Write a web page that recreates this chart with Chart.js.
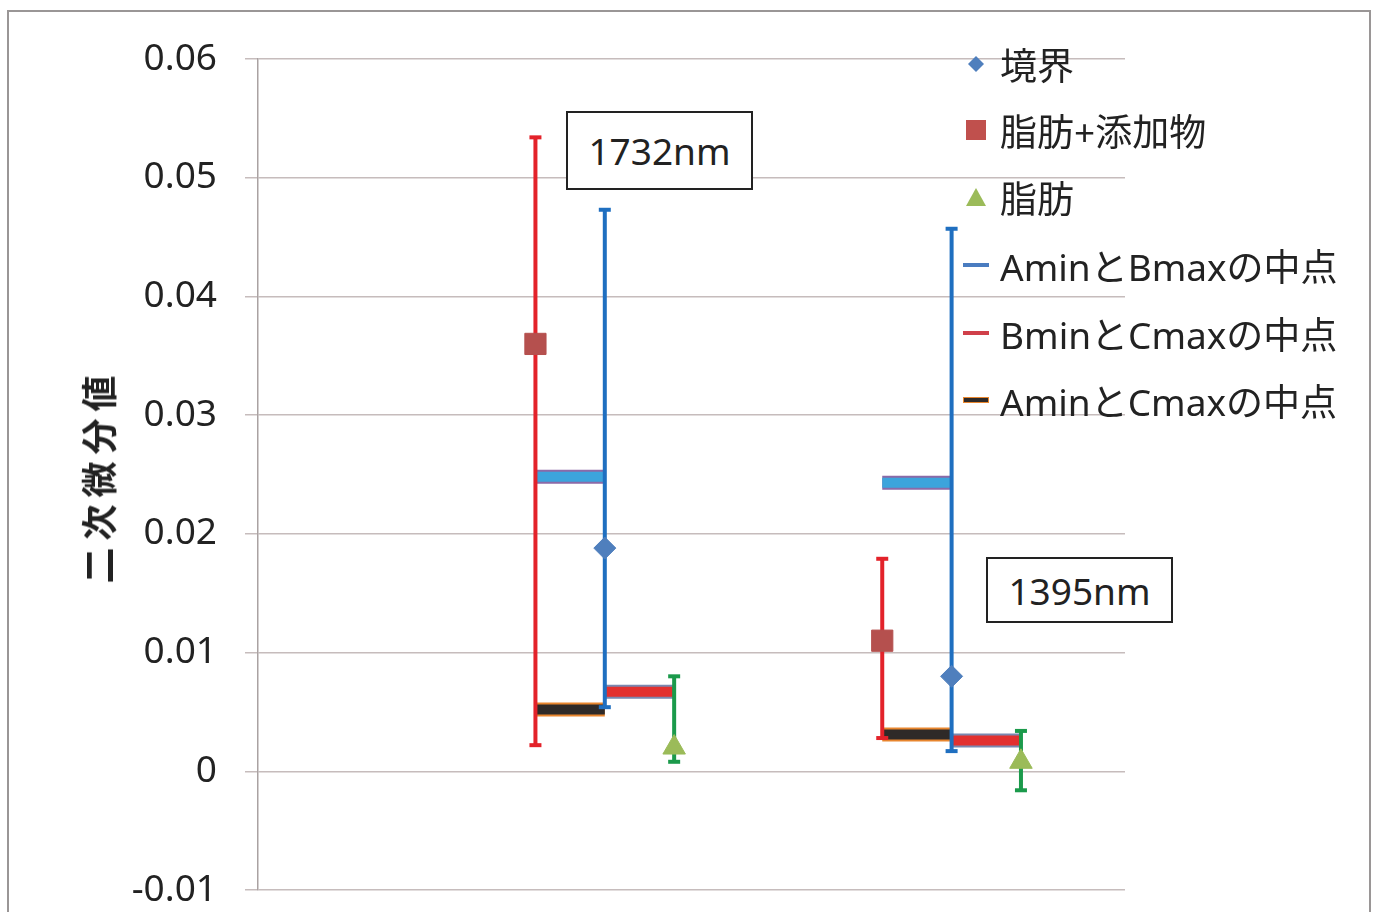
<!DOCTYPE html>
<html lang="ja">
<head>
<meta charset="utf-8">
<title>二次微分値</title>
<script src="https://cdn.jsdelivr.net/npm/chart.js@4/dist/chart.umd.min.js"></script>
<style>
  html, body { margin: 0; padding: 0; background: #fff; }
  body { width: 1378px; height: 912px; position: relative; overflow: hidden;
         font-family: 'Noto Sans', 'Noto Sans CJK JP', sans-serif; color: #222; }
  #frame { position: absolute; left: 7px; top: 10px; width: 1364px; height: 1000px;
           border: 2px solid #9a9696; box-sizing: border-box; }
  #chart { position: absolute; left: 0; top: 0; }
  .note { position: absolute; background: #fff; border: 2px solid #222; box-sizing: border-box;
          display: flex; align-items: center; justify-content: center; font-size: 37px; }
  .legend-row { position: absolute; left: 960px; height: 50px; display: flex; align-items: center;
                font-size: 37px; white-space: nowrap; }
  .legend-row .mk { width: 32px; height: 50px; display: flex; align-items: center; justify-content: center; }
  .legend-row .tx { margin-left: 8px; }
  #ytitle { position: absolute; left: 97px; top: 476px; transform: translate(-50%, -50%) rotate(-90deg);
            font-family: 'Noto Sans CJK JP', sans-serif; font-weight: bold; font-size: 36px;
            letter-spacing: 7px; white-space: nowrap; line-height: 1; }
</style>
</head>
<body>
<div id="frame"></div>
<canvas id="chart" width="1378" height="912"></canvas>
<div id="ytitle"></div>
<div id="notes"></div>
<div id="legend"></div>
<script>
// Wavelengths, each marked by a note box next to its group
const wavelengths = ['1732nm', '1395nm'];

// Horizontal slots of the three samples within each wavelength group
const slotA = [4, 9];    // 脂肪+添加物
const slotB = [5, 10];   // 境界
const slotC = [6, 11];   // 脂肪

// 境界 (B): value and range
const boundaryVal = [0.0188, 0.0080];
const boundaryMin = [0.0054, 0.0017];
const boundaryMax = [0.0473, 0.0457];

// 脂肪+添加物 (A): value and range
const fatAddVal = [0.0360, 0.0110];
const fatAddMin = [0.0022, 0.0028];
const fatAddMax = [0.0534, 0.0179];

// 脂肪 (C): value and range
const fatVal = [0.0020, 0.0008];
const fatMin = [0.0008, -0.0016];
const fatMax = [0.0080, 0.0034];

// Midpoints between the ranges
const midAminBmax = [0.0248, 0.0243];
const midBminCmax = [0.0067, 0.0026];
const midAminCmax = [0.0052, 0.0031];

// Value axis
const yTickValues = [-0.01, 0, 0.01, 0.02, 0.03, 0.04, 0.05, 0.06];
const yTickLabels = ['-0.01', '0', '0.01', '0.02', '0.03', '0.04', '0.05', '0.06'];
const yTitle = '二次微分値';

const legendNames = ['境界', '脂肪+添加物', '脂肪', 'AminとBmaxの中点', 'BminとCmaxの中点', 'AminとCmaxの中点'];

const C = {
  boundary: '#4f7fbd', fatAdd: '#b5504e', fat: '#9bbb59',
  barA: '#e3222a', barB: '#1f6fc0', barC: '#1b9a4b',
  mid1: '#3ca4dc', mid1Edge: '#8a6aa8',
  mid2: '#e2302f', mid2Edge: '#7a88b0',
  mid3: '#2e2a28', mid3Edge: '#e8862e'
};

const markers = (xs, ys) => xs.map((x, i) => ({ x, y: ys[i] }));
// vertical range lines, one gap between groups
const ranges = (xs, lo, hi) => {
  const out = [];
  xs.forEach((x, i) => { out.push({ x, y: lo[i] }, { x, y: hi[i] }, { x, y: null }); });
  return out;
};
// horizontal segment from one slot to another at the midpoint value
const segments = (from, to, ys) => {
  const out = [];
  ys.forEach((y, i) => { out.push({ x: from[i], y }, { x: to[i], y }, { x: to[i], y: null }); });
  return out;
};

const pointSet = (label, data, style, radius, color) => ({
  label, data, showLine: false, pointStyle: style, pointRadius: radius,
  backgroundColor: color, borderColor: color, pointBorderWidth: 1
});
const rangeSet = (label, data, color) => ({
  label, data, showLine: true, spanGaps: false, borderColor: color, borderWidth: 4,
  pointStyle: 'line', pointRadius: 6, pointBorderWidth: 4, pointBorderColor: color,
  backgroundColor: color
});
const segSet = (label, data, color, width) => ({
  label, data, showLine: true, spanGaps: false, borderColor: color, borderWidth: width,
  borderCapStyle: 'butt', pointRadius: 0
});

const datasets = [
  pointSet(legendNames[0], markers(slotB, boundaryVal), 'rectRot', 11, C.boundary),
  pointSet(legendNames[1], markers(slotA, fatAddVal), 'rect', 15, C.fatAdd),
  pointSet(legendNames[2], markers(slotC, fatVal), 'triangle', 13, C.fat),
  rangeSet('range A', ranges(slotA, fatAddMin, fatAddMax), C.barA),
  rangeSet('range B', ranges(slotB, boundaryMin, boundaryMax), C.barB),
  rangeSet('range C', ranges(slotC, fatMin, fatMax), C.barC),
  segSet(legendNames[3], segments(slotA, slotB, midAminBmax), C.mid1, 10),
  segSet(legendNames[4], segments(slotB, slotC, midBminCmax), C.mid2, 10),
  segSet(legendNames[5], segments(slotA, slotB, midAminCmax), C.mid3, 10),
  segSet('edge 1', segments(slotA, slotB, midAminBmax), C.mid1Edge, 14),
  segSet('edge 2', segments(slotB, slotC, midBminCmax), C.mid2Edge, 14),
  segSet('edge 3', segments(slotA, slotB, midAminCmax), C.mid3Edge, 14)
];

new Chart(document.getElementById('chart'), {
  type: 'line',
  data: { datasets },
  options: {
    responsive: false,
    animation: false,
    devicePixelRatio: 1,
    events: [],
    layout: { padding: { left: 60, top: 59, right: 253, bottom: 22 } },
    plugins: { legend: { display: false }, tooltip: { enabled: false } },
    scales: {
      x: { type: 'linear', min: 0, max: 12.5, display: false },
      y: {
        type: 'linear', min: -0.01, max: 0.06,
        afterBuildTicks: (axis) => { axis.ticks = yTickValues.map(v => ({ value: v })); },
        afterFit: (axis) => { axis.width = 198; axis.paddingTop = 0; axis.paddingBottom = 0; },
        ticks: {
          callback: (v, i) => yTickLabels[i],
          color: '#222', padding: 28,
          font: { family: "'Noto Sans', 'Noto Sans CJK JP', sans-serif", size: 37 }
        },
        grid: { color: '#c6bcbc', lineWidth: 1.5, tickLength: 13, drawTicks: true },
        border: { color: '#aaa2a2', width: 1.5 }
      }
    }
  }
});

document.getElementById('ytitle').textContent = yTitle;

// wavelength note boxes
const notePlaces = [
  { left: 566, top: 111, width: 187, height: 79 },
  { left: 986, top: 557, width: 187, height: 66 }
];
const notes = document.getElementById('notes');
wavelengths.forEach((w, i) => {
  const d = document.createElement('div');
  d.className = 'note';
  const p = notePlaces[i];
  Object.assign(d.style, { left: p.left + 'px', top: p.top + 'px', width: p.width + 'px', height: p.height + 'px' });
  d.textContent = w;
  notes.appendChild(d);
});

// legend swatches
const swatches = [
  `<svg width="18" height="18"><polygon points="9,1 17,9 9,17 1,9" fill="${C.boundary}"/></svg>`,
  `<svg width="20" height="20"><rect x="0" y="0" width="20" height="20" fill="#c0504d"/></svg>`,
  `<svg width="22" height="20"><polygon points="11,1 21,19 1,19" fill="${C.fat}"/></svg>`,
  `<svg width="26" height="6"><rect x="0" y="1" width="26" height="4" fill="#4a7cc0"/></svg>`,
  `<svg width="26" height="6"><rect x="0" y="1" width="26" height="4" fill="#d0404a"/></svg>`,
  `<svg width="26" height="6"><rect x="0.5" y="0.5" width="25" height="5" fill="${C.mid3}" stroke="${C.mid3Edge}" stroke-width="1"/></svg>`
];
const legendCenters = [64, 130, 197, 265, 333, 400];
const legend = document.getElementById('legend');
legendNames.forEach((name, i) => {
  const row = document.createElement('div');
  row.className = 'legend-row';
  row.style.top = (legendCenters[i] - 25) + 'px';
  row.innerHTML = `<span class="mk">${swatches[i]}</span><span class="tx"></span>`;
  row.querySelector('.tx').textContent = name;
  legend.appendChild(row);
});
</script>
</body>
</html>
